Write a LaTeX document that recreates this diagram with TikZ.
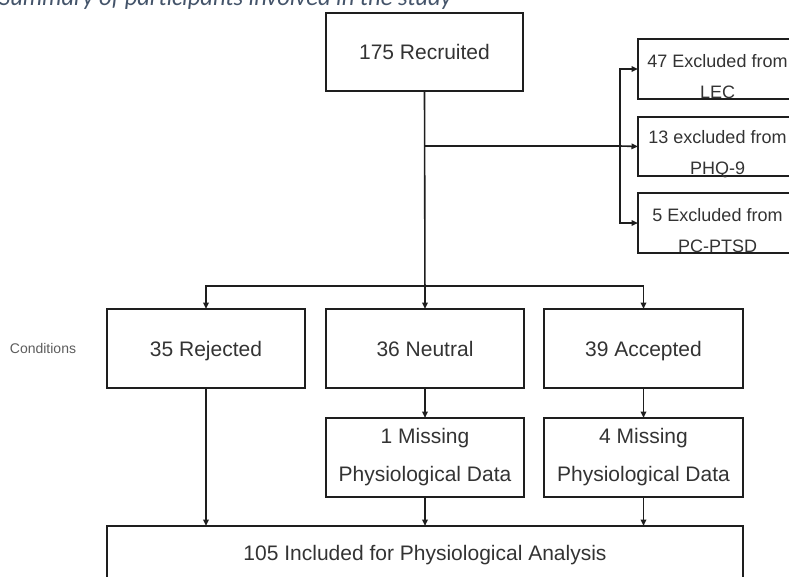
\documentclass[tikz,border=0pt]{standalone}
\usepackage{fontspec}
\setmainfont{Liberation Sans}
\newfontfamily\captionfont{Carlito}
\usetikzlibrary{arrows.meta}
\definecolor{boxline}{HTML}{1E1E1E}
\definecolor{boxtext}{HTML}{333333}
\definecolor{captioncol}{HTML}{44546A}
\tikzset{
  box/.style={draw=boxline, line width=2pt, inner sep=0pt, outer sep=0pt,
    text=boxtext, align=center, font=\fontsize{21}{38}\selectfont},
  onebox/.style={box, text height=17pt, text depth=2pt},
  exbox/.style={draw=boxline, line width=2pt, inner sep=0pt, outer sep=0pt,
    minimum width=159pt},
  extext/.style={text=boxtext, align=center, inner sep=0pt,
    font=\fontsize{18}{31}\selectfont},
  conn/.style={draw=boxline, line width=1.6pt},
  arr/.style={conn, -{Triangle[length=6.5pt,width=5.5pt]}},
}
\begin{document}
\begin{tikzpicture}[x=1pt, y=-1pt]
\useasboundingbox (0,0) rectangle (789,576);
\clip (0,0) rectangle (789,576);

% caption above the chart
\node[anchor=base west, inner sep=0pt, text=captioncol,
  font=\captionfont\itshape\fontsize{24.5}{28}\selectfont] (cap) at (-1,5)
  {Summary of participants involved in the study};

% recruitment
\node[onebox, minimum width=197pt, minimum height=78pt] (rec) at (424.5,52) {175 Recruited};

% exclusions
\node[exbox, minimum height=60pt] (ex1) at (717.5,69) {};
\node[exbox, minimum height=59pt] (ex2) at (717.5,146.5) {};
\node[exbox, minimum height=60pt] (ex3) at (717.5,223) {};
\node[extext] (ex1t) at ([yshift=-7.5pt]ex1.center) {47 Excluded from\\LEC};
\node[extext] (ex2t) at ([yshift=-7.5pt]ex2.center) {13 excluded from\\PHQ-9};
\node[extext] (ex3t) at ([yshift=-7.5pt]ex3.center) {5 Excluded from\\PC-PTSD};

% conditions
\node[text=boxtext!80, inner sep=0pt, font=\fontsize{14}{16}\selectfont] (condlabel) at (43,348) {Conditions};
\node[onebox, minimum width=198pt, minimum height=79pt] (rej) at (206,348.5) {35 Rejected};
\node[onebox, minimum width=198pt, minimum height=79pt] (neu) at (425,348.5) {36 Neutral};
\node[onebox, minimum width=199pt, minimum height=79pt] (acc) at (643.5,348.5) {39 Accepted};

% missing data
\node[box, minimum width=198pt, minimum height=79pt] (mis1) at (425,457.5) {1 Missing\\Physiological Data};
\node[box, minimum width=199pt, minimum height=79pt] (mis2) at (643.5,457.5) {4 Missing\\Physiological Data};

% final sample
\node[onebox, minimum width=636pt, minimum height=54pt] (inc) at (425,553) {105 Included for Physiological Analysis};

% connectors
\coordinate (j1) at (424.5,146);
\coordinate (j2) at (620,146);
\coordinate (split) at (424.5,286);

\draw[arr] (rec.south) -- (neu.north);
\draw[conn] (j1) -- (j2);
\draw[arr] (j2) -- (ex2.west);
\draw[arr] (j2) |- (ex1.west);
\draw[arr] (j2) |- (ex3.west);
\draw[arr] (split) -| (rej.north);
\draw[arr] (split) -| (acc.north);
\draw[arr] (rej.south) -- (rej.south |- inc.north);
\draw[arr] (neu.south) -- (mis1.north);
\draw[arr] (acc.south) -- (mis2.north);
\draw[arr] (mis1.south) -- (mis1.south |- inc.north);
\draw[arr] (mis2.south) -- (mis2.south |- inc.north);
\end{tikzpicture}
\end{document}
